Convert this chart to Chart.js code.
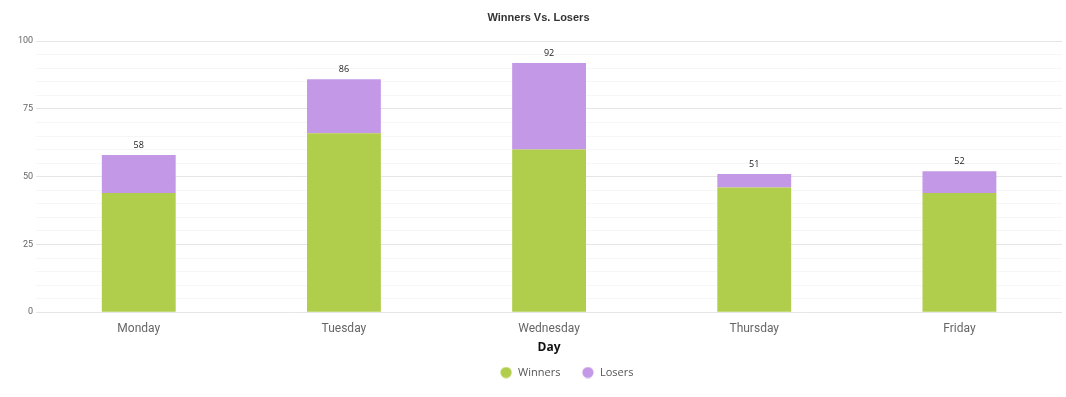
<!DOCTYPE html>
<html><head><meta charset="utf-8">
<script src="https://cdn.jsdelivr.net/npm/chart.js@4"></script>
<style>html,body{margin:0;padding:0;background:#fff}#wrap{width:1066px;height:397px;position:relative}</style>
</head><body><div id="wrap"><canvas id="c"></canvas></div>
<script>
const categories = ["Monday","Tuesday","Wednesday","Thursday","Friday"];
const winners = [44, 66, 60, 46, 44];
const losers = [14, 20, 32, 5, 8];
const yTickLabels = [0, 25, 50, 75, 100];

const colWinners = 'rgb(176,206,75)';
const colLosers = 'rgb(195,152,230)';

function dot(color) {
  const c = document.createElement('canvas');
  c.width = 12; c.height = 12;
  const x = c.getContext('2d');
  if (color) {
    x.fillStyle = color;
    x.beginPath(); x.arc(6, 6, 5.6, 0, Math.PI * 2); x.fill();
  }
  return c;
}
const blankDot = dot(null);

const totalsPlugin = {
  id: 'totals',
  afterDatasetsDraw(chart) {
    const ctx = chart.ctx;
    const meta = chart.getDatasetMeta(1);
    const y = chart.scales.y;
    ctx.save();
    ctx.font = '9px "Open Sans", sans-serif';
    ctx.fillStyle = '#222';
    ctx.textAlign = 'center';
    ctx.textBaseline = 'bottom';
    categories.forEach((c, i) => {
      const tot = winners[i] + losers[i];
      const x = meta.data[i].x;
      ctx.fillText(String(tot), x, y.getPixelForValue(tot) - 5);
    });
    ctx.restore();
  }
};

new Chart(document.getElementById('c'), {
  type: 'bar',
  data: {
    labels: categories,
    datasets: [
      { label: 'Winners', data: winners, backgroundColor: colWinners, borderWidth: 0, pointStyle: dot(colWinners) },
      { label: 'Losers', data: losers, backgroundColor: colLosers, borderWidth: 0, pointStyle: dot(colLosers) }
    ]
  },
  options: {
    responsive: true,
    maintainAspectRatio: false,
    animation: false,
    barPercentage: 0.36,
    categoryPercentage: 1,
    layout: { padding: { left: 15, right: 4, top: 0, bottom: 9 } },
    plugins: {
      title: { display: true, text: 'Winners Vs. Losers', color: '#333', font: { family: '"Liberation Sans", Arial, sans-serif', size: 11, weight: 'bold' }, padding: { top: 11, bottom: 17 } },
      legend: {
        position: 'bottom',
        labels: {
          usePointStyle: true, pointStyleWidth: 13, boxWidth: 8, boxHeight: 8, padding: 21,
          color: '#555', font: { family: '"Open Sans", sans-serif', size: 11 },
          generateLabels(chart) {
            const items = Chart.defaults.plugins.legend.labels.generateLabels(chart);
            items.unshift({ text: '\u2003\u2002', fillStyle: 'rgba(0,0,0,0)', strokeStyle: 'rgba(0,0,0,0)', lineWidth: 0, pointStyle: blankDot, hidden: false, datasetIndex: -1, fontColor: 'rgba(0,0,0,0)' });
            return items;
          }
        },
        onClick() {}
      },
      tooltip: { enabled: false }
    },
    scales: {
      x: {
        stacked: true,
        grid: { display: false },
        border: { display: false },
        ticks: { color: '#666', font: { family: 'Roboto, sans-serif', size: 12 }, padding: 2 },
        title: { display: true, text: 'Day', color: '#111', font: { family: '"Open Sans", sans-serif', size: 12, weight: 'bold' }, padding: { top: 2, bottom: -9 } }
      },
      y: {
        stacked: true,
        min: 0, max: 100,
        border: { display: false },
        grid: {
          color: ctx => (yTickLabels.includes(ctx.tick.value) ? '#e6e6e6' : '#f6f6f6'),
          drawTicks: false
        },
        ticks: {
          stepSize: 5, autoSkip: false, padding: 3,
          color: '#666', font: { family: 'Roboto, sans-serif', size: 9 },
          callback: v => (yTickLabels.includes(v) ? String(v) : '')
        }
      }
    }
  },
  plugins: [totalsPlugin]
});
</script></body></html>
